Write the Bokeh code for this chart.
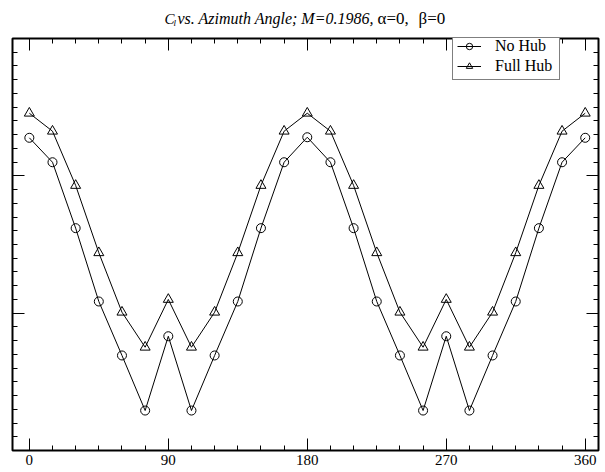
from bokeh.plotting import figure
from bokeh.layouts import column
from bokeh.models import (Range1d, FixedTicker, LinearAxis, Legend, LegendItem,
                          CustomJSTickFormatter)
from bokeh.core.properties import value
from bokeh.embed import file_html
from bokeh.resources import INLINE

# Azimuth angle (deg)
azimuth = [0, 15, 30, 45, 60, 75, 90, 105, 120, 135, 150, 165, 180,
           195, 210, 225, 240, 255, 270, 285, 300, 315, 330, 345, 360]
# C_l (relative units; y axis unlabelled)
no_hub = [2.277, 2.099, 1.619, 1.085, 0.692, 0.291, 0.832, 0.291, 0.692, 1.085, 1.619, 2.099, 2.281,
          2.099, 1.619, 1.085, 0.692, 0.291, 0.832, 0.291, 0.692, 1.085, 1.619, 2.099, 2.277]
full_hub = [2.456, 2.325, 1.930, 1.440, 1.007, 0.752, 1.100, 0.752, 1.007, 1.440, 1.930, 2.325, 2.456,
            2.325, 1.930, 1.440, 1.007, 0.752, 1.100, 0.752, 1.007, 1.440, 1.930, 2.325, 2.456]

x_major = [0, 90, 180, 270, 360]
x_minor = list(range(15, 360, 15))
y_major = [0, 1, 2, 3]
y_minor = [round(i * 0.1, 2) for i in range(0, 31)]

SERIF = "Liberation Serif"
TITLE_H = 32
FRAME_L, FRAME_R = 12, 598   # frame edges shared by both stacked figures

# ---- title strip (mixed italic / upright) ----
t = figure(width=605, height=TITLE_H, output_backend="svg", toolbar_location=None,
           title=None, x_range=Range1d(FRAME_L, FRAME_R), y_range=Range1d(0, TITLE_H),
           x_axis_location=None, y_axis_location=None,
           min_border_left=FRAME_L, min_border_right=605 - FRAME_R,
           min_border_top=0, min_border_bottom=0)
t.outline_line_color = None
t.xgrid.visible = False
t.ygrid.visible = False
t.background_fill_color = "white"
t.border_fill_color = "white"

def title_text(txt, sx, sy, style, size):
    t.text(x=[sx], y=[TITLE_H - sy], text=[txt], text_font=value(SERIF),
           text_font_style=style, text_font_size=size, text_color="black",
           text_baseline="alphabetic", text_align="left")

title_text("C", 164, 18.3, "italic", "15px")
title_text("l", 173, 22, "italic", "9px")
title_text("vs. Azimuth Angle; M=0.1986,", 177, 18.3, "italic", "16px")
title_text("\u03b1=0,", 377, 18.3, "normal", "17px")
title_text("\u03b2=0", 418, 18.3, "normal", "17px")

# ---- main chart ----
p = figure(width=605, height=472 - TITLE_H, output_backend="svg", toolbar_location=None,
           title=None, x_range=Range1d(-10.9, 368.6), y_range=Range1d(0, 3),
           x_axis_location=None, y_axis_location=None,
           min_border_left=FRAME_L, min_border_right=605 - FRAME_R,
           min_border_top=38 - TITLE_H, min_border_bottom=22)
p.xgrid.visible = False
p.ygrid.visible = False
p.outline_line_color = "black"
p.outline_line_width = 2
p.background_fill_color = "white"
p.border_fill_color = "white"

xt = FixedTicker(ticks=x_major, minor_ticks=x_minor)
yt = FixedTicker(ticks=y_major, minor_ticks=y_minor)

def style(ax, labels):
    ax.axis_line_color = None
    ax.major_tick_in = 12
    ax.major_tick_out = 0
    ax.minor_tick_in = 5
    ax.minor_tick_out = 0
    ax.major_tick_line_color = "black"
    ax.minor_tick_line_color = "black"
    if labels:
        ax.major_label_text_font = SERIF
        ax.major_label_text_font_size = "15px"
        ax.major_label_text_color = "black"
        ax.major_label_standoff = 4
    else:
        ax.formatter = CustomJSTickFormatter(code="return ''")
        ax.major_label_text_font_size = "2px"
        ax.major_label_standoff = 0

bx = LinearAxis(ticker=xt); style(bx, True); p.add_layout(bx, "below")
tx = LinearAxis(ticker=xt); style(tx, False); p.add_layout(tx, "above")
ly = LinearAxis(ticker=yt); style(ly, False); p.add_layout(ly, "left")
ry = LinearAxis(ticker=yt); style(ry, False); p.add_layout(ry, "right")

l1 = p.line(azimuth, no_hub, line_color="black", line_width=1)
m1 = p.scatter(azimuth, no_hub, marker="circle", size=9, fill_color=None,
               line_color="black", line_width=1)
l2 = p.line(azimuth, full_hub, line_color="black", line_width=1)
m2 = p.scatter(azimuth, full_hub, marker="triangle", size=10, fill_color=None,
               line_color="black", line_width=1)

legend = Legend(items=[LegendItem(label="No Hub", renderers=[l1, m1]),
                       LegendItem(label="Full Hub", renderers=[l2, m2])],
                location=(440, 370), orientation="vertical",
                border_line_color="black", border_line_width=1,
                background_fill_color="white", background_fill_alpha=1,
                label_text_font=SERIF, label_text_font_size="16px",
                label_text_color="black", glyph_width=24, glyph_height=16,
                label_height=16, label_standoff=14, label_width=60,
                padding=4, spacing=2, margin=0)
p.add_layout(legend)

layout = column(t, p, spacing=0)
open("out.html", "w").write(file_html(layout, INLINE))
